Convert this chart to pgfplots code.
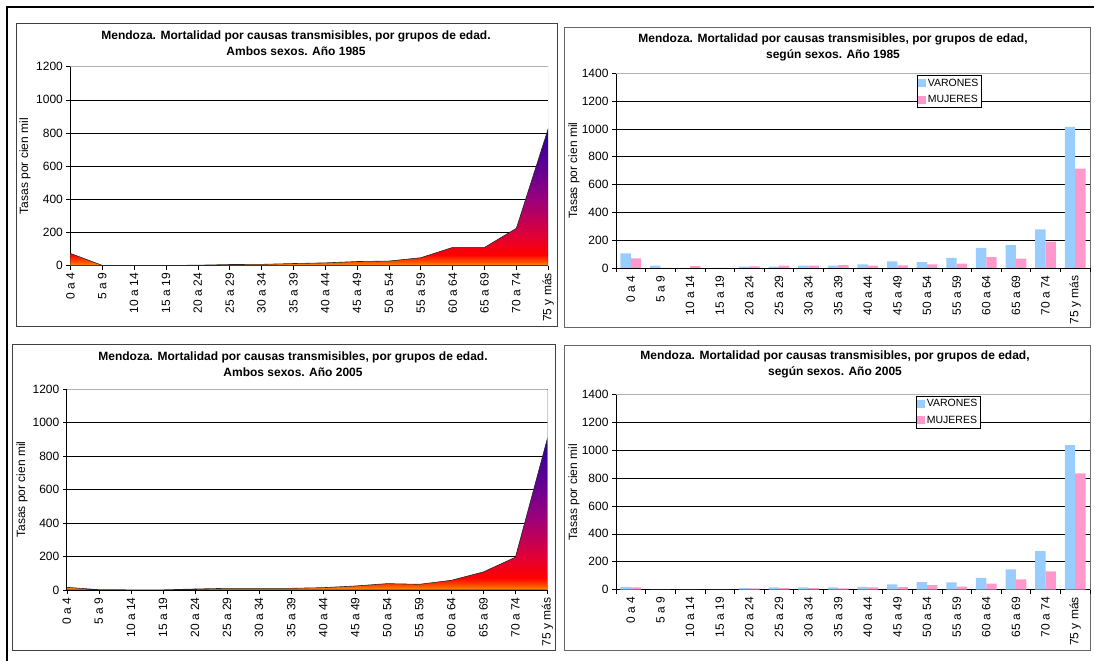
\documentclass[border=0pt]{standalone}
\usepackage{fontspec}
\setmainfont{Liberation Sans}
\usepackage{pgfplots}
\pgfplotsset{compat=1.18}

\definecolor{c0}{HTML}{FF9900}
\definecolor{c1}{HTML}{FF5000}
\definecolor{c2}{HTML}{FF0000}
\definecolor{c3}{HTML}{E00036}
\definecolor{c4}{HTML}{A00078}
\definecolor{c5}{HTML}{620092}
\definecolor{c6}{HTML}{2C009C}
\definecolor{varon}{HTML}{99CCFF}
\definecolor{mujer}{HTML}{FF99CC}
\pgfdeclareverticalshading{fire}{100bp}{color(0bp)=(c0); color(25bp)=(c0); color(26.5bp)=(c1); color(29bp)=(c2); color(36bp)=(c3); color(48bp)=(c4); color(60bp)=(c5); color(74bp)=(c6); color(100bp)=(c6)}

\pgfplotsset{
  base/.style={
    scale only axis,
    axis lines=left,
    axis line style={-, black, line width=0.8bp},
    ymin=0,
    ymajorgrids,
    grid style={black, line width=0.6bp},
    tick align=outside,
    major tick length=4bp,
    minor tick length=4bp,
    tick style={black, line width=0.6bp},
    /pgf/number format/assume math mode=true,
    /pgf/number format/1000 sep={},
    scaled y ticks=false,
    tick label style={font=\fontsize{12bp}{14bp}\selectfont},
    xtick={0,...,15},
    xticklabels={0 a 4,5 a 9,10 a 14,15 a 19,20 a 24,25 a 29,30 a 34,35 a 39,40 a 44,45 a 49,50 a 54,55 a 59,60 a 64,65 a 69,70 a 74,75 y más},
    xticklabel style={rotate=90, anchor=east},
    ylabel={Tasas por cien mil},
    label style={font=\fontsize{12bp}{14bp}\selectfont},
  },
  areaax/.style={base, xmin=0, xmax=15, ymax=1200, ytick={0,200,...,1200}},
  barax/.style={base, xmin=-0.5, xmax=15.5, ymax=1400, ytick={0,200,...,1400},
    minor xtick={-0.5,0.5,...,15.5}, major x tick style={draw=none},
    legend image code/.code={\fill[#1] (0bp,-4bp) rectangle (7.5bp,4bp);},
    legend style={anchor=north west, draw=black, line width=0.6bp, fill=white,
      font=\fontsize{10.5bp}{12bp}\selectfont, inner xsep=1bp, inner ysep=1.5bp,
      row sep=3.5bp, cells={anchor=west},
      /tikz/every even column/.append style={column sep=0bp}},
  },
}

\begin{document}
\begin{tikzpicture}[x=1bp,y=1bp]
\useasboundingbox (0,0) rectangle (1094,661);
% outer frame
\draw[line width=2bp] (7,0) -- (7,654) -- (1094,654);
% chart boxes
\draw[black!75, line width=1bp] (16,334) rectangle (557,637);
\draw[black!60, line width=1bp] (564,333) rectangle (1090.6,633);
\draw[black!75, line width=1bp] (12.5,10) rectangle (555,316);
\draw[black!60, line width=1bp] (564,10.3) rectangle (1090.6,315.3);

% Panel 1
\begin{axis}[areaax, at={(70.4bp,395.3bp)}, anchor=south west, width=477.8bp, height=199bp,
  ylabel style={at={(axis description cs:-0.095,0.5)}, anchor=center}]
\addplot[draw=black!85, line width=0.6bp, shade, shading=fire] coordinates {
(0,74) (1,2) (2,2) (3,1) (4,3) (5,7) (6,8) (7,13) (8,17) (9,25) (10,28) (11,48) (12,110) (13,110) (14,225) (15,826)} \closedcycle;
\draw[gray!60, line width=0.8bp] (rel axis cs:0,1) -- (rel axis cs:1,1) -- (rel axis cs:1,0);
\end{axis}

% Panel 2
\begin{axis}[barax, at={(616bp,393bp)}, anchor=south west, width=474bp, height=194.7bp,
  ylabel style={at={(axis description cs:-0.0886,0.5)}, anchor=center},
  legend style={at={(0.635,0.991)}}]
\addplot[ybar, bar width=0.35, bar shift=-0.175, fill=varon, draw=none] coordinates {
(0,105) (1,17) (2,0) (3,0) (4,10) (5,10) (6,17) (7,17) (8,26) (9,48) (10,42) (11,72) (12,144) (13,164) (14,277) (15,1015)};
\addplot[ybar, bar width=0.35, bar shift=0.175, fill=mujer, draw=none] coordinates {
(0,69) (1,0) (2,14) (3,0) (4,12) (5,17) (6,17) (7,21) (8,17) (9,19) (10,26) (11,32) (12,78) (13,67) (14,189) (15,714)};
\legend{VARONES,MUJERES}
\draw[gray!60, line width=0.8bp] (rel axis cs:0,1) -- (rel axis cs:1,1) -- (rel axis cs:1,0);
\end{axis}

% Panel 3
\begin{axis}[areaax, at={(66.8bp,71bp)}, anchor=south west, width=480.7bp, height=200.7bp,
  ylabel style={at={(axis description cs:-0.093,0.5)}, anchor=center}]
\addplot[draw=black!85, line width=0.6bp, shade, shading=fire] coordinates {
(0,16) (1,2) (2,1) (3,1) (4,6) (5,10) (6,10) (7,10) (8,14) (9,24) (10,38) (11,34) (12,58) (13,108) (14,196) (15,908)} \closedcycle;
\draw[gray!60, line width=0.8bp] (rel axis cs:0,1) -- (rel axis cs:1,1) -- (rel axis cs:1,0);
\end{axis}

% Panel 4
\begin{axis}[barax, at={(616bp,71.3bp)}, anchor=south west, width=474bp, height=195.4bp,
  ylabel style={at={(axis description cs:-0.0886,0.5)}, anchor=center},
  legend style={at={(0.633,0.993)}}]
\addplot[ybar, bar width=0.35, bar shift=-0.175, fill=varon, draw=none] coordinates {
(0,21) (1,0) (2,0) (3,0) (4,12) (5,17) (6,17) (7,17) (8,21) (9,38) (10,54) (11,53) (12,84) (13,146) (14,277) (15,1036)};
\addplot[ybar, bar width=0.35, bar shift=0.175, fill=mujer, draw=none] coordinates {
(0,17) (1,0) (2,0) (3,0) (4,10) (5,12) (6,12) (7,10) (8,17) (9,19) (10,32) (11,22) (12,43) (13,74) (14,131) (15,834)};
\legend{VARONES,MUJERES}
\draw[gray!60, line width=0.8bp] (rel axis cs:0,1) -- (rel axis cs:1,1) -- (rel axis cs:1,0);
\end{axis}

% titles
\begin{scope}[every node/.style={font=\bfseries\fontsize{12bp}{16bp}\selectfont, align=center}]
\node at (296,618) {Mendoza. Mortalidad por causas transmisibles, por grupos de edad.\\Ambos sexos. Año 1985};
\node at (833,614) {Mendoza. Mortalidad por causas transmisibles, por grupos de edad,\\según sexos. Año 1985};
\node at (293,297) {Mendoza. Mortalidad por causas transmisibles, por grupos de edad.\\Ambos sexos. Año 2005};
\node at (835,296.3) {Mendoza. Mortalidad por causas transmisibles, por grupos de edad,\\según sexos. Año 2005};
\end{scope}
\end{tikzpicture}
\end{document}
